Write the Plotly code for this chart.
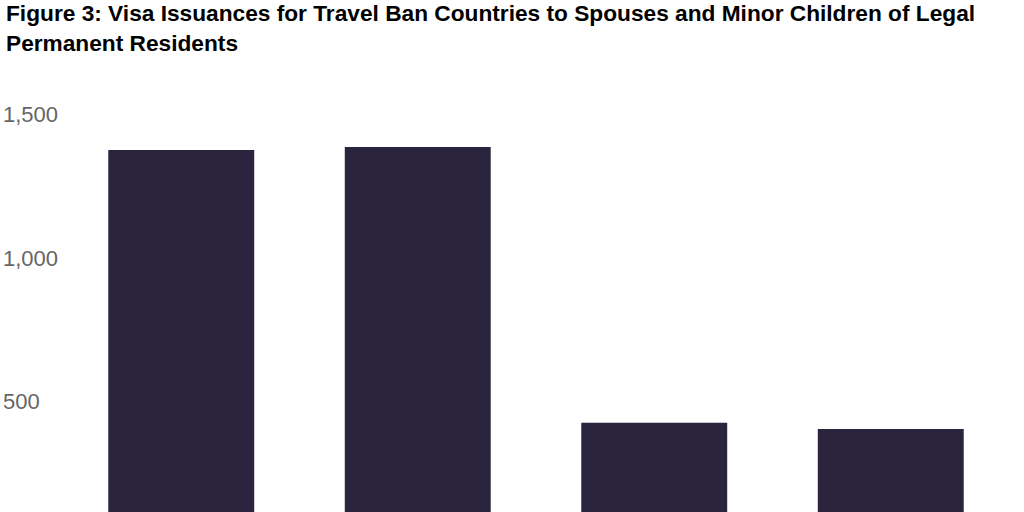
import plotly.graph_objects as go

# fiscal years (axis labels fall below the visible crop)
years = ["FY2016", "FY2017", "FY2018", "FY2019"]
issuances = [1378, 1388, 428, 406]

tick_vals = [500, 1000, 1500]
tick_text = [f"{v:,}" for v in tick_vals]

bar_color = "#2a243e"
title = ("Figure 3: Visa Issuances for Travel Ban Countries to Spouses and Minor Children of Legal"
         "<br>Permanent Residents")

fig = go.Figure()
fig.add_trace(go.Bar(x=years, y=issuances, marker_color=bar_color,
                     marker_line_width=0, hoverinfo="x+y"))

# left-aligned value labels, drawn as annotations at the tick values
for v, t in zip(tick_vals, tick_text):
    fig.add_annotation(x=-0.066, xref="paper", xanchor="left",
                       y=v, yref="y", yanchor="middle",
                       text=t, showarrow=False,
                       font=dict(family="Liberation Sans", size=22, color="#666666"))

# title as a left-aligned annotation so it can sit at the page edge
fig.add_annotation(x=-0.0625, xref="paper", xanchor="left",
                   y=1.0, yref="paper", yanchor="bottom", yshift=32,
                   text=title, showarrow=False, align="left",
                   font=dict(family="Liberation Sans", size=22.7, color="#000000", weight="bold"))

fig.update_layout(
    width=1024, height=512,
    margin=dict(l=63, r=15, t=90, b=0),
    paper_bgcolor="white", plot_bgcolor="white",
    bargap=0.383,
    showlegend=False,
    xaxis=dict(showticklabels=False, showgrid=False, zeroline=False, showline=False, ticks=""),
    yaxis=dict(range=[116.7, 1587], showticklabels=False, showgrid=False,
               zeroline=False, showline=False, ticks=""),
)

fig.write_html("out.html", config={"displayModeBar": False},
               post_script="document.body.style.margin='0';")
